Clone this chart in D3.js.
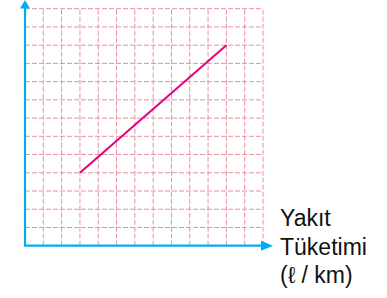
<!DOCTYPE html>
<html>
<head>
<meta charset="utf-8">
<script src="https://cdn.jsdelivr.net/npm/d3@7"></script>
<style>
  body { margin: 0; background: #fff; }
  svg { display: block; }
</style>
</head>
<body>
<script>
// grid cells and the plotted segment (in grid units)
const gridCols = d3.range(0, 14)
const gridRows = d3.range(0, 14)
const lineX = [3, 11]
const lineY = [4, 11]
const axisLabel = ['Yakıt', 'Tüketimi', '(ℓ / km)']

const width = 387, height = 298

const svg = d3.select('body')
  .append('svg')
  .attr('width', width)
  .attr('height', height)

const x = d3.scaleLinear().domain([0, 13]).range([25, 263])
const y = d3.scaleLinear().domain([0, 13]).range([245.7, 8.7])

// dashed grid
const grid = svg.append('g')
  .attr('stroke', '#e8929c')
  .attr('stroke-width', 1)
  .attr('stroke-dasharray', '5,2')

grid.selectAll('line.v')
  .data(gridCols.slice(1))
  .enter()
  .append('line')
  .attr('class', 'v')
  .attr('x1', d => x(d)).attr('x2', d => x(d))
  .attr('y1', y(0)).attr('y2', y(13))

grid.selectAll('line.h')
  .data(gridRows.slice(1))
  .enter()
  .append('line')
  .attr('class', 'h')
  .attr('x1', x(0)).attr('x2', x(13))
  .attr('y1', d => y(d)).attr('y2', d => y(d))

// the line
svg.append('line')
  .attr('x1', x(lineX[0])).attr('y1', y(lineY[0]))
  .attr('x2', x(lineX[1])).attr('y2', y(lineY[1]))
  .attr('stroke', '#e6007e')
  .attr('stroke-width', 2)

// axes with arrows
const blue = '#00aeef'
svg.append('line')
  .attr('x1', x(0)).attr('y1', y(0))
  .attr('x2', x(0)).attr('y2', 6)
  .attr('stroke', blue).attr('stroke-width', 2.2)
svg.append('path')
  .attr('d', `M${x(0) - 5},8.5 L${x(0)},0 L${x(0) + 5},8.5 Z`)
  .attr('fill', blue)

svg.append('line')
  .attr('x1', x(0) - 1.1).attr('y1', y(0))
  .attr('x2', 266).attr('y2', y(0))
  .attr('stroke', blue).attr('stroke-width', 2.2)
svg.append('path')
  .attr('d', `M261,${y(0) - 5} L273,${y(0)} L261,${y(0) + 5} Z`)
  .attr('fill', blue)

// label
svg.append('g')
  .selectAll('text')
  .data(axisLabel)
  .enter()
  .append('text')
  .attr('x', 280)
  .attr('y', (d, i) => 226 + i * 28.5)
  .attr('font-family', 'Liberation Sans, Arial, sans-serif')
  .attr('font-size', 23)
  .attr('fill', '#111')
  .text(d => d)
</script>
</body>
</html>
